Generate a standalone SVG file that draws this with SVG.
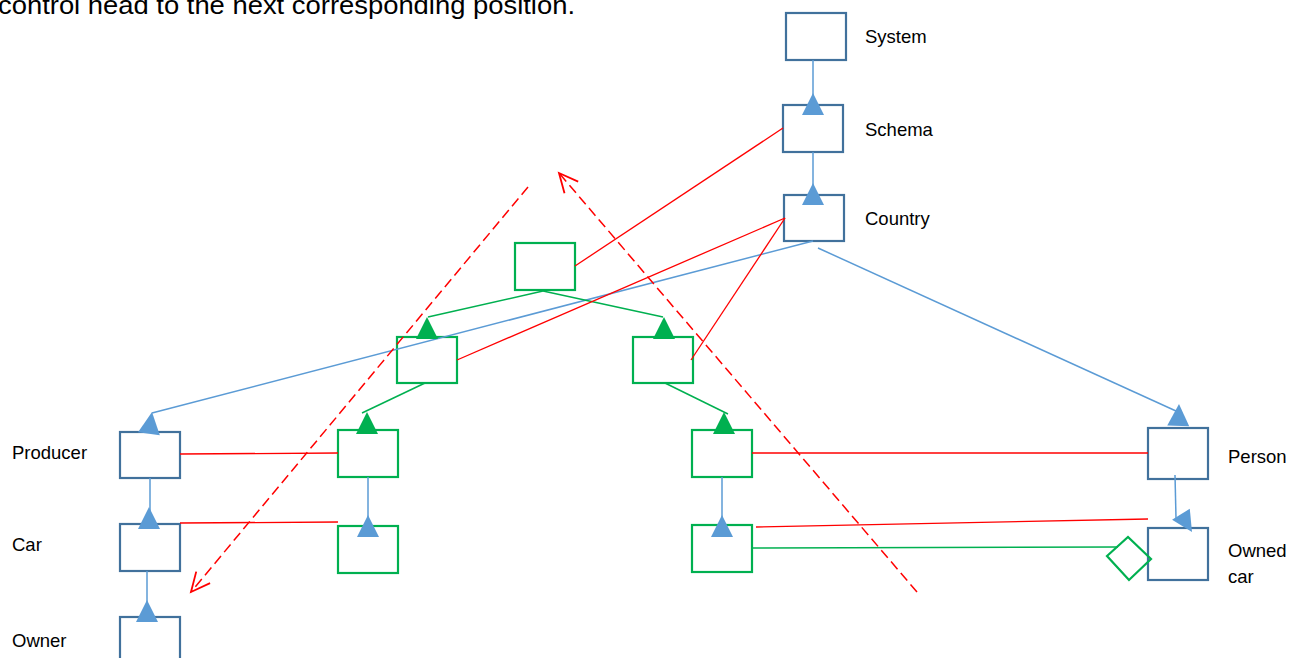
<svg xmlns="http://www.w3.org/2000/svg" width="1304" height="658" viewBox="0 0 1304 658">
<style>
.bn{fill:none;stroke:#41719c;stroke-width:2.2}
.gn{fill:none;stroke:#00b050;stroke-width:2.2}
.bl{stroke:#5b9bd5;stroke-width:1.5;fill:none}
.gl{stroke:#00b050;stroke-width:1.5;fill:none}
.rl{stroke:#ff0000;stroke-width:1.3;fill:none}
.rd{stroke:#ff0000;stroke-width:1.5;fill:none;stroke-dasharray:10 5}
.bt{fill:#5b9bd5}
.gt{fill:#00b050}
text{font-family:"Liberation Sans",Arial,sans-serif;font-size:18.5px;fill:#000}
</style>
<defs>
<polygon id="tri" points="0,0 -11,22 11,22"/>
<marker id="open" markerUnits="userSpaceOnUse" markerWidth="30" markerHeight="30" refX="0" refY="0" orient="auto" overflow="visible">
<path d="M -19,-9 L 0,0 L -19,9" fill="none" stroke="#ff0000" stroke-width="1.8"/>
</marker>
</defs>
<rect width="1304" height="658" fill="#fff"/>
<text id="caption" x="-2" y="14" style="font-size:25px" textLength="577" lengthAdjust="spacingAndGlyphs">control head to the next corresponding position.</text>

<g id="node-system"><rect class="bn" x="786" y="13" width="60" height="47"/><text x="865" y="43">System</text></g>
<g id="node-schema"><rect class="bn" x="783" y="105" width="60" height="47"/><text x="865" y="136">Schema</text></g>
<g id="node-country"><rect class="bn" x="784" y="195" width="60" height="46"/><text x="865" y="225">Country</text></g>
<g id="node-producer"><rect class="bn" x="120" y="432" width="60" height="46"/><text x="12" y="459">Producer</text></g>
<g id="node-car"><rect class="bn" x="120" y="524" width="60" height="47"/><text x="12" y="551">Car</text></g>
<g id="node-owner"><rect class="bn" x="120" y="617" width="60" height="50"/><text x="12" y="647">Owner</text></g>
<g id="node-person"><rect class="bn" x="1148" y="428" width="60" height="51"/><text x="1228" y="463">Person</text></g>
<g id="node-ownedcar"><rect class="bn" x="1148" y="528" width="60" height="52"/><text x="1228" y="557">Owned</text><text x="1228" y="583">car</text></g>

<g id="node-g-top"><rect class="gn" x="515" y="243" width="60" height="47"/></g>
<g id="node-g-l1"><rect class="gn" x="397" y="337" width="60" height="46"/></g>
<g id="node-g-r1"><rect class="gn" x="633" y="337" width="60" height="46"/></g>
<g id="node-g-l2"><rect class="gn" x="338" y="430" width="60" height="47"/></g>
<g id="node-g-l3"><rect class="gn" x="338" y="526" width="60" height="47"/></g>
<g id="node-g-r2"><rect class="gn" x="692" y="430" width="60" height="47"/></g>
<g id="node-g-r3"><rect class="gn" x="692" y="525" width="60" height="47"/></g>
<g id="node-diamond"><polygon class="gn" points="1107,556 1128,537 1151,559 1129,580"/></g>

<g id="connectors">
<line class="bl" x1="813" y1="60" x2="813" y2="100"/>
<use href="#tri" class="bt" transform="translate(813,93)"/>
<line class="bl" x1="813" y1="152" x2="813" y2="190"/>
<use href="#tri" class="bt" transform="translate(813,183)"/>
<line class="bl" x1="813" y1="241" x2="152" y2="413"/>
<use href="#tri" class="bt" transform="translate(152,412) rotate(8)"/>
<line class="bl" x1="818" y1="248" x2="1176" y2="411"/>
<use href="#tri" class="bt" transform="translate(1179,404) rotate(2)"/>
<line class="bl" x1="150" y1="478" x2="150" y2="515"/>
<use href="#tri" class="bt" transform="translate(149,507)"/>
<line class="bl" x1="147" y1="571" x2="147" y2="608"/>
<use href="#tri" class="bt" transform="translate(147,600)"/>
<line class="bl" x1="368" y1="477" x2="368" y2="522"/>
<use href="#tri" class="bt" transform="translate(368,515)"/>
<line class="bl" x1="722" y1="477" x2="722" y2="522"/>
<use href="#tri" class="bt" transform="translate(722,515)"/>
<line class="bl" x1="1175" y1="475" x2="1176" y2="518"/>
<use href="#tri" class="bt" transform="translate(1192,532) rotate(148) scale(0.95)"/>
<line class="gl" x1="543" y1="291" x2="428" y2="317"/>
<use href="#tri" class="gt" transform="translate(427,317)"/>
<line class="gl" x1="543" y1="291" x2="663" y2="317"/>
<use href="#tri" class="gt" transform="translate(664,317)"/>
<line class="gl" x1="425" y1="383" x2="362" y2="413"/>
<use href="#tri" class="gt" transform="translate(367,412)"/>
<line class="gl" x1="665" y1="383" x2="728" y2="414"/>
<use href="#tri" class="gt" transform="translate(724,412)"/>
<line class="gl" x1="752" y1="548" x2="1118" y2="547"/>
<line class="rl" x1="575" y1="266" x2="783" y2="128"/>
<line class="rl" x1="457" y1="360" x2="785" y2="218"/>
<line class="rl" x1="691" y1="360" x2="785" y2="218"/>
<line class="rl" x1="180" y1="454" x2="338" y2="453"/>
<line class="rl" x1="180" y1="523" x2="338" y2="522"/>
<line class="rl" x1="752" y1="453" x2="1148" y2="453"/>
<line class="rl" x1="756" y1="527" x2="1148" y2="519"/>
<line class="rd" x1="528" y1="187" x2="191" y2="592" marker-end="url(#open)"/>
<line class="rd" x1="917" y1="592" x2="559" y2="173" marker-end="url(#open)"/>
</g>
</svg>
